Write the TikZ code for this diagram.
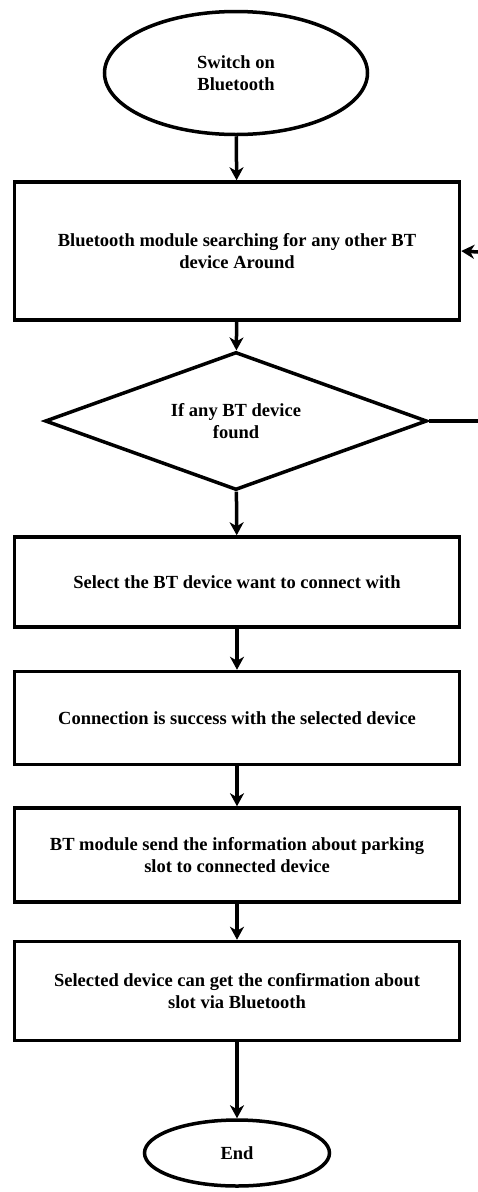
\documentclass[tikz,border=0pt]{standalone}
\usepackage{fontspec}
\setmainfont{Liberation Serif}
\usetikzlibrary{shapes.geometric,arrows.meta}
\tikzset{
  flow/.style={
    x=1pt, y=-1pt,
    every node/.style={font=\bfseries\fontsize{18.5}{22}\selectfont, align=center, line width=3.5pt, inner sep=0pt},
    terminal/.style={draw, ellipse},
    process/.style={draw, rectangle, minimum width=445pt},
    decision/.style={draw, diamond, aspect=2.77, minimum width=382pt, minimum height=138pt},
    link/.style={line width=3.5pt, -{Stealth[length=13pt,width=14pt,inset=4pt]}},
  }
}
\begin{document}
\begin{tikzpicture}[flow]
  \useasboundingbox (0,0) rectangle (478,1192);
  \node[terminal, minimum width=263pt, minimum height=123pt] (start) at (236,73) {Switch on\\Bluetooth};
  \node[process, minimum height=138pt] (search) at (237,251) {Bluetooth module searching for any other BT\\device Around};
  \node[decision] (found) at (236,421) {If any BT device\\found};
  \node[process, minimum height=90pt] (select) at (237,582) {Select the BT device want to connect with};
  \node[process, minimum height=93pt] (connect) at (237,718) {Connection is success with the selected device};
  \node[process, minimum height=94pt] (send) at (237,855) {BT module send the information about parking\\slot to connected device};
  \node[process, minimum height=99pt] (confirm) at (237,991) {Selected device can get the confirmation about\\slot via Bluetooth};
  \node[terminal, minimum width=185pt, minimum height=66pt] (stop) at (237,1153) {End};
  \coordinate (loopin) at (478,252);
  \coordinate (loopout) at (478,421);

  \draw[link] (start) -- (search);
  \draw[link] (search) -- (found);
  \draw[link] (found) -- (select);
  \draw[link] (select) -- (connect);
  \draw[link] (connect) -- (send);
  \draw[link] (send) -- (confirm);
  \draw[link] (confirm) -- (stop);
  % no-device branch back to searching
  \draw[line width=3.5pt] (found.east) -- (loopout);
  \draw[link] (loopin) -- (search.east);
\end{tikzpicture}
\end{document}
